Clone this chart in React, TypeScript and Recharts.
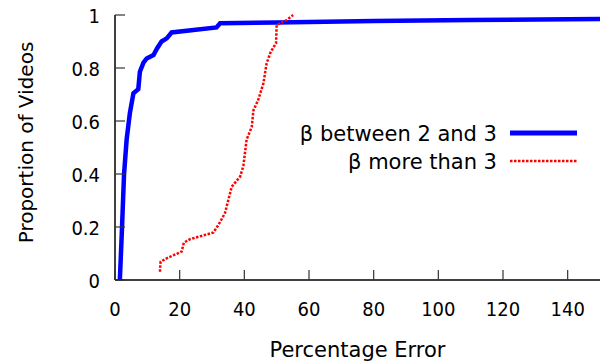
import React from 'react'
import { LineChart, Line, XAxis, YAxis } from 'recharts'

// CDF of percentage error, beta between 2 and 3
const betaMidX = [1.5, 2.1, 2.8, 3.6, 4.6, 5.7, 7.2, 7.7, 8.8, 9.8, 11.9, 13, 14.4, 16, 17.5, 31.4, 32.5, 50, 80, 110, 150]
const betaMidY = [0, 0.176, 0.4, 0.53, 0.63, 0.705, 0.72, 0.786, 0.82, 0.836, 0.849, 0.874, 0.9, 0.912, 0.934, 0.953, 0.969, 0.972, 0.977, 0.981, 0.985]

// CDF of percentage error, beta more than 3
const betaHighX = [13.9, 14.1, 16, 20.6, 21.3, 23.2, 30.4, 32, 34, 35, 36.1, 38.7, 39.7, 40.7, 42.3, 42.8, 44.3, 45.9, 46.9, 48.2, 49.8, 50, 53.1, 55.1]
const betaHighY = [0.031, 0.069, 0.082, 0.107, 0.141, 0.154, 0.179, 0.208, 0.252, 0.3, 0.352, 0.39, 0.43, 0.53, 0.578, 0.64, 0.68, 0.742, 0.818, 0.862, 0.893, 0.962, 0.981, 1.0]

const xTicks = [0, 20, 40, 60, 80, 100, 120, 140]
const yTicks = [0, 0.2, 0.4, 0.6, 0.8, 1]

const seriesNames = ['β between 2 and 3', 'β more than 3']

const midData = betaMidX.map((x, i) => ({ x, y: betaMidY[i] }))
const highData = betaHighX.map((x, i) => ({ x, y: betaHighY[i] }))

// tick digits are narrow, titles are wide -> two faces
const NUM_FONT = '"DejaVu Sans Condensed", "DejaVu Sans", sans-serif'
const FONT = '"DejaVu Sans", sans-serif'
const FS = 20
const TITLE_FS = 21
const TICK = 10
const tickColor = '#333'

function BottomTick({ x, y, payload }: any) {
  return (
    <g>
      <line x1={x} y1={y} x2={x} y2={y - TICK} stroke={tickColor} strokeWidth={1.2} />
      <text x={x} y={y + 29} textAnchor="middle" dominantBaseline="central" fontFamily={NUM_FONT} fontSize={FS} fill="#000">
        {payload.value}
      </text>
    </g>
  )
}

function TopTick({ x, y }: any) {
  return <line x1={x} y1={y} x2={x} y2={y + TICK} stroke={tickColor} strokeWidth={1.2} />
}

function LeftTick({ x, y, payload }: any) {
  return (
    <g>
      <line x1={x} y1={y} x2={x + TICK} y2={y} stroke={tickColor} strokeWidth={1.2} />
      <text x={x - 15} y={y + 1} textAnchor="end" dominantBaseline="central" fontFamily={NUM_FONT} fontSize={FS} fill="#000">
        {payload.value}
      </text>
    </g>
  )
}

function RightTick({ x, y }: any) {
  return <line x1={x} y1={y} x2={x - TICK} y2={y} stroke={tickColor} strokeWidth={1.2} />
}

function LegendBox() {
  const styles = [
    { stroke: '#0000ff', width: 5, dash: undefined },
    { stroke: '#ff0000', width: 2.5, dash: '2.5 1.5' },
  ]
  return (
    <svg width={300} height={60} style={{ position: 'absolute', left: 284, top: 119 }}>
      {seriesNames.map((name, i) => (
        <g key={name}>
          <text x={213} y={15 + i * 28} textAnchor="end" dominantBaseline="central" fontFamily={FONT} fontSize={TITLE_FS} fill="#000">
            {name}
          </text>
          <line x1={226} x2={293} y1={14 + i * 28} y2={14 + i * 28} stroke={styles[i].stroke} strokeWidth={styles[i].width} strokeDasharray={styles[i].dash} />
        </g>
      ))}
    </svg>
  )
}

export default function App() {
  return (
    <div style={{ position: 'absolute', left: 0, top: 0, width: 601, height: 364, background: '#fff' }}>
      <LineChart width={601} height={364} margin={{ top: 15, right: 1, left: 0, bottom: 0 }}>
        <XAxis
          xAxisId="bottom"
          type="number"
          dataKey="x"
          domain={[0, 150]}
          ticks={xTicks}
          allowDataOverflow
          height={84}
          tickSize={0}
          tickMargin={0}
          tickLine={false}
          tick={<BottomTick />}
          axisLine={{ stroke: '#000', strokeWidth: 1.5 }}
          label={({ viewBox }: any) => (
            <text x={viewBox.x + viewBox.width / 2} y={viewBox.y + 70} textAnchor="middle" dominantBaseline="central" fontFamily={FONT} fontSize={TITLE_FS} fill="#000">
              Percentage Error
            </text>
          )}
        />
        <XAxis
          xAxisId="top"
          orientation="top"
          type="number"
          dataKey="x"
          domain={[0, 150]}
          ticks={xTicks}
          height={0}
          tickSize={0}
          tickLine={false}
          tick={<TopTick />}
          axisLine={{ stroke: '#000', strokeWidth: 1.5 }}
        />
        <YAxis
          yAxisId="left"
          type="number"
          domain={[0, 1]}
          ticks={yTicks}
          width={115}
          tickSize={0}
          tickMargin={0}
          tickLine={false}
          tick={<LeftTick />}
          axisLine={{ stroke: '#000', strokeWidth: 1.5 }}
          label={({ viewBox }: any) => {
            const cy = viewBox.y + viewBox.height / 2 - 5
            return (
              <text x={26} y={cy} transform={`rotate(-90 26 ${cy})`} textAnchor="middle" dominantBaseline="central" fontFamily={FONT} fontSize={TITLE_FS - 1} fill="#000">
                Proportion of Videos
              </text>
            )
          }}
        />
        <YAxis
          yAxisId="right"
          orientation="right"
          type="number"
          domain={[0, 1]}
          ticks={yTicks}
          width={0}
          tickSize={0}
          tickLine={false}
          tick={<RightTick />}
          axisLine={{ stroke: '#000', strokeWidth: 1.5 }}
        />
        <Line
          xAxisId="bottom"
          yAxisId="left"
          data={midData}
          dataKey="y"
          name={seriesNames[0]}
          type="linear"
          stroke="#0000ff"
          strokeWidth={4.5}
          dot={false}
          isAnimationActive={false}
        />
        <Line
          xAxisId="bottom"
          yAxisId="left"
          data={highData}
          dataKey="y"
          name={seriesNames[1]}
          type="linear"
          stroke="#ff0000"
          strokeWidth={2.5}
          strokeDasharray="2.5 1.5"
          dot={false}
          isAnimationActive={false}
        />
      </LineChart>
      <LegendBox />
    </div>
  )
}
